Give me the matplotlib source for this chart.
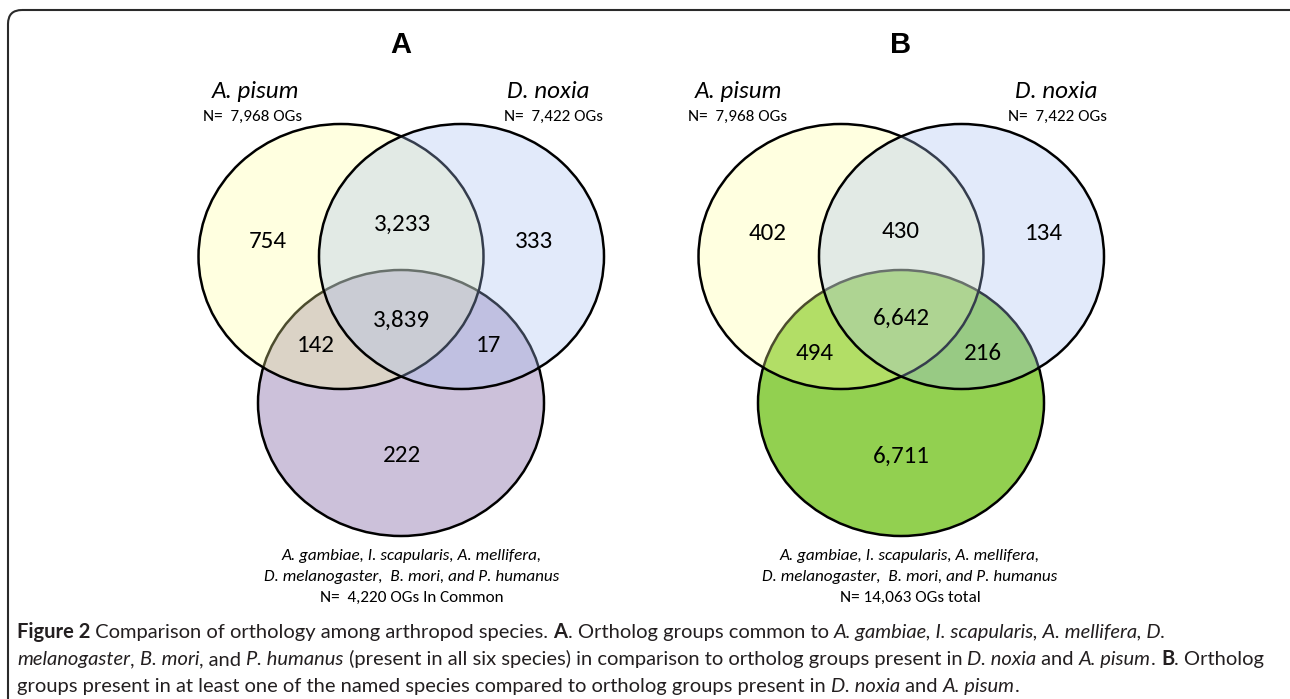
import matplotlib
matplotlib.use('Agg')
import matplotlib.pyplot as plt
from matplotlib.patches import Ellipse, FancyBboxPatch
from matplotlib import font_manager

# Venn counts, order: pisum only, noxia only, others only,
# pisum&noxia, pisum&others, noxia&others, all three
panel_titles = ['A', 'B']
counts_a = [754, 333, 222, 3233, 142, 17, 3839]
counts_b = [402, 134, 6711, 430, 494, 216, 6642]
top_species = ['A. pisum', 'D. noxia']
top_totals = ['N=  7,968 OGs', 'N=  7,422 OGs']
bottom_species = ['A. gambiae, I. scapularis, A. mellifera,',
                  'D. melanogaster,  B. mori, and P. humanus']
bottom_totals = ['N=  4,220 OGs In Common', 'N= 14,063 OGs total']
bottom_colors = ['#CCC1DA', '#92D050']

caption_lines = [
    [('Figure 2', 'b'), (' Comparison of orthology among arthropod species. ', 'r'), ('A', 'b'),
     ('. Ortholog groups common to ', 'r'), ('A. gambiae, I. scapularis, A. mellifera, D.', 'i')],
    [('melanogaster', 'i'), (', ', 'r'), ('B. mori', 'i'), (', and ', 'r'), ('P. humanus', 'i'),
     (' (present in all six species) in comparison to ortholog groups present in ', 'r'),
     ('D. noxia', 'i'), (' and ', 'r'), ('A. pisum', 'i'), ('. ', 'r'), ('B', 'b'), ('. Ortholog', 'r')],
    [('groups present in at least one of the named species compared to ortholog groups present in ', 'r'),
     ('D. noxia', 'i'), (' and ', 'r'), ('A. pisum', 'i'), ('.', 'r')],
]

installed = {f.name for f in font_manager.fontManager.ttflist}
def pick(*names):
    for n in names:
        if n in installed:
            return n
    return 'DejaVu Sans'

body_font = pick('Carlito', 'Lato', 'Open Sans')
head_font = pick('Liberation Sans', 'Arial')
cap_font = pick('Liberation Sans Narrow', 'Lato', 'Open Sans')

W, H = 1290, 699
fig = plt.figure(figsize=(W / 100, H / 100), dpi=100)
ax = fig.add_axes([0, 0, 1, 1])
ax.set_xlim(0, W)
ax.set_ylim(H, 0)
ax.axis('off')

# outer frame
ax.add_patch(FancyBboxPatch((8, 10), 1400, 800, boxstyle='round,pad=0,rounding_size=14',
                            facecolor='none', edgecolor='#2a2a2a', lw=1.5, clip_on=False))

cw, ch = 285, 265
yellow = (1.0, 1.0, 0.6, 0.30)
blue = (167 / 255, 192 / 255, 242 / 255, 0.32)
edge_lw = 1.8
num_size = 18
small_size = 12.3

for k, counts in enumerate([counts_a, counts_b]):
    dx = 500 * k
    c_pis = (341 + dx, 256.5)
    c_nox = (461.5 + dx, 256.5)
    c_oth = (401 + dx, 403)

    ax.add_patch(Ellipse(c_oth, cw + 1, ch + 1, facecolor=bottom_colors[k], edgecolor='black', lw=edge_lw))
    ax.add_patch(Ellipse(c_pis, cw, ch, facecolor=yellow, edgecolor='black', lw=edge_lw))
    ax.add_patch(Ellipse(c_nox, cw, ch, facecolor=blue, edgecolor='black', lw=edge_lw))

    ax.text(401 + dx, 45, panel_titles[k], fontsize=21, fontweight='bold', family=head_font,
            ha='center', va='center')

    ax.text(255 + dx * 0.966, 92, top_species[0], fontsize=num_size, style='italic', family=body_font,
            ha='center', va='center')
    ax.text(253 + dx * 0.97, 117, top_totals[0], fontsize=small_size, family=body_font,
            ha='center', va='center')
    ax.text(548 + dx * 1.016, 92, top_species[1], fontsize=num_size, style='italic', family=body_font,
            ha='center', va='center')
    ax.text(553 + dx * 1.008, 117, top_totals[1], fontsize=small_size, family=body_font,
            ha='center', va='center')

    if k == 0:
        pos = [(268, 242), (534, 241), (402, 456), (402, 224), (316, 345), (488, 345), (401, 320)]
    else:
        pos = [(768, 234), (1044, 234), (901, 456), (901, 232), (815, 354), (983, 354), (901, 318)]
    for (x, y), v in zip(pos, counts):
        ax.text(x, y, f'{v:,}', fontsize=num_size, family=body_font, ha='center', va='center')

    bx = 412 + dx * 0.996
    ax.text(bx, 556, bottom_species[0], fontsize=small_size, style='italic', family=body_font,
            ha='center', va='center')
    ax.text(bx, 577, bottom_species[1], fontsize=small_size, style='italic', family=body_font,
            ha='center', va='center')
    ax.text(bx, 598, bottom_totals[k], fontsize=small_size, family=body_font, ha='center', va='center')

# caption, drawn run by run so bold/italic pieces sit inline
renderer = fig.canvas.get_renderer()

def run_width(txt, style, size):
    kw = dict(fontsize=size, family=cap_font,
              fontweight='bold' if style == 'b' else 'normal',
              fontstyle='italic' if style == 'i' else 'normal')
    t1 = ax.text(0, 0, txt + '|', **kw)
    t2 = ax.text(0, 0, '|', **kw)
    w = t1.get_window_extent(renderer).width - t2.get_window_extent(renderer).width
    t1.remove()
    t2.remove()
    return w, kw

# scale the caption so the second line spans the text block
ref = 12.0
line2 = sum(run_width(t, s, ref)[0] for t, s in caption_lines[1])
cap_size = ref * (1265 - 17) / line2

for i, runs in enumerate(caption_lines):
    x = 17
    y = 638 + 27 * i
    for txt, style in runs:
        w, kw = run_width(txt, style, cap_size)
        ax.text(x, y, txt, color='#231f20', va='baseline', ha='left', **kw)
        x += w

fig.savefig('out.png', dpi=100)
